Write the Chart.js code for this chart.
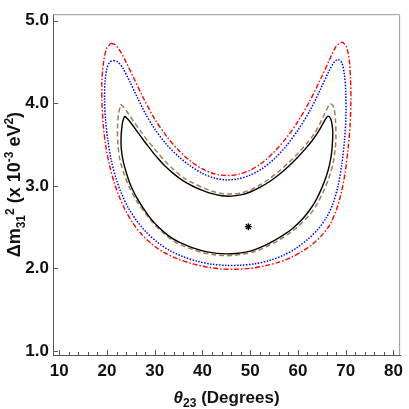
<!DOCTYPE html>
<html>
<head>
<meta charset="utf-8">
<script src="https://cdn.jsdelivr.net/npm/chart.js@4.4.1/dist/chart.umd.min.js"></script>
<style>
  html, body { margin: 0; padding: 0; background: #fff; }
  #wrap { width: 409px; height: 409px; }
</style>
</head>
<body>
<div id="wrap"><canvas id="contourChart" width="409" height="409"></canvas></div>
<script>
// Axis ticks
const xTicks = [10, 20, 30, 40, 50, 60, 70, 80];
const xMinorTicks = [10, 12, 14, 16, 18, 20, 22, 24, 26, 28, 30, 32, 34, 36, 38, 40, 42, 44, 46, 48,
                     50, 52, 54, 56, 58, 60, 62, 64, 66, 68, 70, 72, 74, 76, 78, 80];
const yTicks = [1.0, 2.0, 3.0, 4.0, 5.0];

// Contours: theta23 (degrees) vs dm31^2 (x 1e-3 eV^2)
const blackTheta = [23.7, 24.5, 25.5, 26.5, 27.5, 28.5, 29.5, 30.5, 32.0, 34.0, 36.0, 38.0, 40.0, 42.0, 44.0,
                    46.0, 48.0, 50.0, 52.0, 54.0, 56.0, 58.0, 60.0, 61.5, 63.0, 64.2, 65.2, 65.9, 66.3, 66.85,
                    67.15, 67.3, 67.25, 67.05, 66.6, 65.9, 65.0, 63.9, 62.5, 60.9, 59.0, 57.0, 55.0, 53.0, 51.0,
                    49.0, 47.0, 45.0, 43.0, 41.0, 39.0, 37.0, 35.0, 33.0, 31.0, 29.2, 27.6, 26.2, 25.0, 24.1,
                    23.4, 23.0, 22.95, 23.1, 23.35, 23.7];
const blackDm = [3.845, 3.80, 3.725, 3.645, 3.565, 3.49, 3.415, 3.345, 3.25, 3.145, 3.06, 2.995, 2.945, 2.905, 2.88,
                 2.875, 2.89, 2.925, 2.98, 3.05, 3.135, 3.235, 3.35, 3.445, 3.55, 3.65, 3.75, 3.82, 3.845, 3.815,
                 3.74, 3.65, 3.55, 3.40, 3.25, 3.11, 2.975, 2.84, 2.71, 2.595, 2.49, 2.405, 2.335, 2.275, 2.228,
                 2.196, 2.18, 2.176, 2.182, 2.20, 2.23, 2.27, 2.32, 2.39, 2.49, 2.60, 2.73, 2.86, 3.00, 3.15,
                 3.30, 3.45, 3.58, 3.70, 3.79, 3.845];

const brownTheta = [22.9, 23.7, 24.6, 25.6, 27.0, 28.5, 30.0, 32.0, 34.0, 36.0, 38.0, 40.0, 42.0, 44.0, 46.0,
                    48.0, 50.0, 52.0, 54.0, 56.0, 58.0, 60.0, 62.0, 63.5, 64.8, 65.9, 66.8, 67.5, 67.85, 67.95,
                    67.75, 67.3, 66.5, 65.4, 64.0, 62.4, 60.5, 58.5, 56.0, 54.0, 52.0, 50.0, 48.0, 46.0, 44.0,
                    42.0, 40.0, 38.0, 36.0, 34.0, 32.0, 30.0, 28.0, 26.3, 24.8, 23.6, 22.7, 22.3, 22.2, 22.4, 22.9];
const brownDm = [3.99, 3.94, 3.865, 3.78, 3.665, 3.55, 3.445, 3.31, 3.195, 3.10, 3.035, 2.98, 2.935, 2.907, 2.90,
                 2.913, 2.95, 3.01, 3.085, 3.175, 3.28, 3.395, 3.525, 3.64, 3.775, 3.91, 3.995, 3.95, 3.80, 3.58,
                 3.42, 3.26, 3.10, 2.94, 2.78, 2.645, 2.535, 2.435, 2.34, 2.28, 2.225, 2.19, 2.168, 2.155, 2.156,
                 2.168, 2.192, 2.228, 2.27, 2.33, 2.42, 2.53, 2.67, 2.81, 2.97, 3.14, 3.32, 3.50, 3.68, 3.86, 3.99];

const blueTheta = [21.4, 22.3, 23.4, 24.8, 26.3, 28.0, 30.0, 32.5, 35.0, 37.5, 40.0, 42.5, 45.0, 47.5, 50.0,
                   52.5, 55.0, 57.5, 60.0, 62.5, 64.8, 66.5, 67.6, 68.4, 69.2, 69.7, 70.0, 70.05, 69.75, 69.2,
                   68.4, 67.3, 66.0, 64.3, 62.2, 59.8, 57.0, 54.0, 51.0, 48.0, 45.0, 42.0, 39.0, 36.0, 33.0,
                   30.5, 28.2, 26.2, 24.5, 23.1, 21.9, 20.9, 20.2, 19.7, 19.5, 19.6, 20.0, 20.6, 21.4];
const blueDm = [4.52, 4.50, 4.42, 4.26, 4.08, 3.88, 3.69, 3.50, 3.355, 3.24, 3.15, 3.095, 3.072, 3.085, 3.13,
                3.21, 3.325, 3.48, 3.675, 3.91, 4.18, 4.39, 4.50, 4.53, 4.49, 4.36, 4.15, 3.85, 3.55, 3.27,
                3.00, 2.78, 2.62, 2.48, 2.36, 2.25, 2.16, 2.095, 2.055, 2.038, 2.036, 2.05, 2.085, 2.14, 2.22,
                2.32, 2.44, 2.58, 2.73, 2.90, 3.09, 3.31, 3.55, 3.80, 4.05, 4.27, 4.42, 4.50, 4.52];

const redTheta = [20.8, 21.7, 22.8, 24.0, 25.5, 27.5, 30.0, 32.5, 35.0, 37.5, 40.0, 42.5, 45.0, 47.5, 50.0,
                  52.5, 55.0, 57.5, 60.0, 62.5, 64.8, 66.7, 68.0, 69.2, 70.1, 70.7, 71.0, 71.1, 70.9, 70.5,
                  69.9, 69.1, 68.0, 66.6, 65.0, 63.0, 61.0, 58.5, 56.0, 53.0, 50.0, 47.0, 44.0, 41.0, 38.0,
                  35.0, 32.0, 29.5, 27.3, 25.4, 23.8, 22.5, 21.4, 20.5, 19.7, 19.2, 18.95, 18.95, 19.3, 19.9, 20.8];
const redDm = [4.73, 4.71, 4.63, 4.50, 4.32, 4.08, 3.81, 3.60, 3.43, 3.30, 3.205, 3.145, 3.125, 3.14, 3.19,
               3.28, 3.41, 3.575, 3.78, 4.03, 4.30, 4.54, 4.69, 4.74, 4.69, 4.54, 4.30, 4.02, 3.72, 3.45,
               3.17, 2.92, 2.70, 2.52, 2.40, 2.29, 2.21, 2.13, 2.075, 2.03, 2.0, 1.99, 1.992, 2.015, 2.055,
               2.11, 2.19, 2.29, 2.41, 2.55, 2.71, 2.88, 3.06, 3.26, 3.50, 3.75, 4.02, 4.28, 4.50, 4.66, 4.73];

// Best fit point
const bestTheta = [49.6];
const bestDm = [2.505];

const toPoints = (xs, ys) => xs.map((x, i) => ({ x: x, y: ys[i] }));

const tickFont = { family: 'Liberation Sans', size: 17, weight: 'bold' };

// draw a row of text pieces (for sub/superscripts), centred on cx
function drawRuns(ctx, runs, cx, baseY) {
    let total = 0;
    runs.forEach(r => {
        ctx.font = (r.italic ? 'italic ' : '') + 'bold ' + r.size + 'px "Liberation Sans", Arial, sans-serif';
        r.w = ctx.measureText(r.t).width;
        total += r.w;
    });
    let xPos = cx - total / 2;
    runs.forEach(r => {
        ctx.font = (r.italic ? 'italic ' : '') + 'bold ' + r.size + 'px "Liberation Sans", Arial, sans-serif';
        ctx.fillText(r.t, xPos, baseY + (r.dy || 0));
        xPos += r.w;
    });
}

const framePlugin = {
    id: 'frame',
    afterDraw(chart) {
        const { ctx, chartArea: a, scales: { x, y } } = chart;
        ctx.save();
        // top and right frame
        ctx.strokeStyle = '#999';
        ctx.lineWidth = 1;
        ctx.beginPath();
        ctx.moveTo(a.left, a.top + 0.5);
        ctx.lineTo(a.right - 0.5, a.top + 0.5);
        ctx.lineTo(a.right - 0.5, a.bottom);
        ctx.stroke();

        // inward tick marks
        ctx.strokeStyle = '#555';
        ctx.beginPath();
        xMinorTicks.forEach(v => {
            const px = Math.round(x.getPixelForValue(v)) + 0.5;
            const len = xTicks.includes(v) ? 5 : 3;
            ctx.moveTo(px, a.bottom);
            ctx.lineTo(px, a.bottom - len);
        });
        yTicks.forEach(v => {
            const py = Math.round(y.getPixelForValue(v)) + 0.5;
            ctx.moveTo(a.left, py);
            ctx.lineTo(a.left + 5, py);
        });
        ctx.stroke();

        // axis titles
        ctx.fillStyle = '#111';
        ctx.textBaseline = 'alphabetic';
        ctx.textAlign = 'left';
        drawRuns(ctx, [
            { t: 'θ', size: 17, italic: true },
            { t: '23', size: 12, dy: 4 },
            { t: ' (Degrees)', size: 17 }
        ], (a.left + a.right) / 2, 403);

        ctx.translate(20, (a.top + a.bottom) / 2);
        ctx.rotate(-Math.PI / 2);
        drawRuns(ctx, [
            { t: 'Δm', size: 18 },
            { t: '31', size: 12, dy: 5 },
            { t: '2', size: 12, dy: -6 },
            { t: ' (x 10', size: 18 },
            { t: '-3', size: 12, dy: -7 },
            { t: ' eV', size: 18 },
            { t: '2', size: 12, dy: -7 },
            { t: ')', size: 18 }
        ], 0, 0);
        ctx.restore();
    }
};

const lineSet = (label, xs, ys, color, dash, width) => ({
    label: label,
    data: toPoints(xs, ys),
    showLine: true,
    borderColor: color,
    borderWidth: width,
    borderDash: dash,
    pointRadius: 0,
    tension: 0.3,
    fill: false
});

new Chart(document.getElementById('contourChart').getContext('2d'), {
    type: 'scatter',
    data: {
        datasets: [
            {
                label: 'best fit',
                data: toPoints(bestTheta, bestDm),
                pointStyle: 'star',
                pointRadius: 3.5,
                borderColor: '#000',
                backgroundColor: '#000',
                borderWidth: 1.3
            },
            lineSet('black', blackTheta, blackDm, '#000000', [], 1.4),
            lineSet('brown', brownTheta, brownDm, '#a67b4f', [5, 3], 1.5),
            lineSet('blue', blueTheta, blueDm, '#0000ff', [1.5, 1.5], 1.5),
            lineSet('red', redTheta, redDm, '#ff0000', [5, 2, 1.5, 2], 1.4)
        ]
    },
    options: {
        responsive: false,
        animation: false,
        layout: { padding: { top: 4, right: 3, left: 0, bottom: 0 } },
        plugins: {
            legend: { display: false },
            tooltip: { enabled: false }
        },
        scales: {
            x: {
                type: 'linear',
                min: 8.7,
                max: 81.4,
                afterFit: s => { s.height = 54; },
                afterBuildTicks: s => { s.ticks = xTicks.map(v => ({ value: v })); },
                grid: { display: false, drawTicks: false },
                border: { display: true, color: '#555', width: 1 },
                ticks: { font: tickFont, color: '#111', padding: 6, maxRotation: 0,
                         callback: v => String(v) }
            },
            y: {
                type: 'linear',
                min: 0.95,
                max: 5.08,
                afterFit: s => { s.width = 53; },
                afterBuildTicks: s => { s.ticks = yTicks.map(v => ({ value: v })); },
                grid: { display: false, drawTicks: false },
                border: { display: true, color: '#555', width: 1 },
                ticks: { font: tickFont, color: '#111', padding: 4,
                         callback: v => Number(v).toFixed(1) }
            }
        }
    },
    plugins: [framePlugin]
});
</script>
</body>
</html>
